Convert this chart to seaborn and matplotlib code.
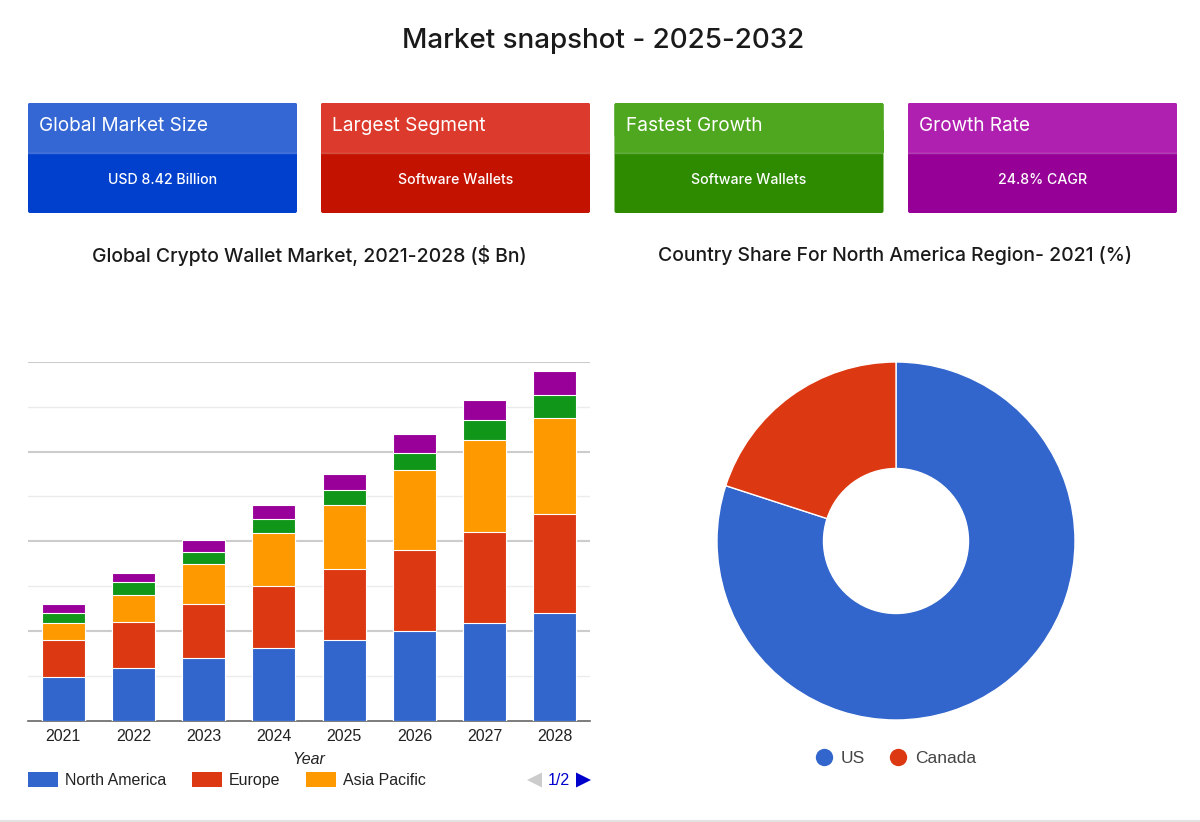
import numpy as np
import pandas as pd
import matplotlib
matplotlib.use("Agg")
import matplotlib.pyplot as plt
from matplotlib.patches import FancyBboxPatch, Rectangle, Polygon, Patch
from matplotlib.lines import Line2D
import seaborn as sns

years = [2021, 2022, 2023, 2024, 2025, 2026, 2027, 2028]
north_america = [0.98, 1.18, 1.40, 1.62, 1.79, 1.99, 2.17, 2.39]
europe = [0.82, 1.02, 1.21, 1.38, 1.60, 1.81, 2.03, 2.21]
asia_pacific = [0.38, 0.61, 0.89, 1.18, 1.43, 1.79, 2.05, 2.14]
latin_america = [0.22, 0.27, 0.27, 0.31, 0.33, 0.38, 0.45, 0.53]
middle_east = [0.20, 0.22, 0.25, 0.31, 0.36, 0.42, 0.45, 0.52]

country_names = ["US", "Canada"]
country_share = [80, 20]

card_titles = ["Global Market Size", "Largest Segment", "Fastest Growth", "Growth Rate"]
card_values = ["USD 8.42 Billion", "Software Wallets", "Software Wallets", "24.8% CAGR"]
card_heads = ["#3567d4", "#dc3a2c", "#4ea71f", "#b020b0"]
card_bodies = ["#0040cc", "#c41200", "#2e8b00", "#960096"]

BLUE, RED, ORANGE, GREEN, PURPLE = "#3366cc", "#dc3912", "#ff9900", "#109618", "#990099"
W, H = 1200, 822
HEAD_FONT = ["Inter", "DejaVu Sans"]
CHART_FONT = ["Liberation Sans", "DejaVu Sans"]

sns.set_theme(style="white")
plt.rcParams["font.family"] = CHART_FONT

fig = plt.figure(figsize=(12, 8.22), dpi=100, facecolor="white")


def px_axes(left, top, right, bottom):
    return fig.add_axes([left / W, 1 - bottom / H, (right - left) / W, (bottom - top) / H])


# page layer in pixel coords
page = fig.add_axes([0, 0, 1, 1])
page.set_xlim(0, W)
page.set_ylim(H, 0)
page.axis("off")

page.text(603, 41, "Market snapshot - 2025-2032", ha="center", va="center",
          fontsize=20, family=HEAD_FONT, weight=500, color="#1a1a1a")

card_left = [28, 321, 614.5, 908]
for left, title, value, head, body in zip(card_left, card_titles, card_values, card_heads, card_bodies):
    page.add_patch(FancyBboxPatch((left + 2, 105), 265, 106, boxstyle="round,pad=2", fc=body, ec="none"))
    page.add_patch(FancyBboxPatch((left + 2, 105), 265, 30, boxstyle="round,pad=2", fc=head, ec="none"))
    page.add_patch(Rectangle((left, 130), 269, 23, fc=head, ec="none"))
    page.plot([left, left + 269], [153, 153], color="white", alpha=0.25, lw=1)
    page.text(left + 11, 126, title, ha="left", va="center", fontsize=13.7,
              family=HEAD_FONT, color="white")
    page.text(left + 134.5, 180, value, ha="center", va="center", fontsize=10.2,
              family=HEAD_FONT, weight=500, color="white")

page.text(309, 255, "Global Crypto Wallet Market, 2021-2028 ($ Bn)", ha="center", va="center",
          fontsize=13.95, family=HEAD_FONT, weight=500, color="#1a1a1a")
page.text(895, 255, "Country Share For North America Region- 2021 (%)", ha="center", va="center",
          fontsize=13.95, family=HEAD_FONT, weight=500, color="#1a1a1a")

# bottom page rule
page.plot([0, W], [821, 821], color="#e3e3e3", lw=1.5)

# stacked bars, tallest first so each shorter total sits on top
ax = px_axes(28, 362, 590, 720.5)
ax.set_facecolor("none")
df = pd.DataFrame({"year": years, "North America": north_america, "Europe": europe,
                   "Asia Pacific": asia_pacific, "Latin America": latin_america,
                   "Middle East": middle_east})
series = ["North America", "Europe", "Asia Pacific", "Latin America", "Middle East"]
colors = [BLUE, RED, ORANGE, GREEN, PURPLE]
totals = df[series].cumsum(axis=1)
for name, color in reversed(list(zip(series, colors))):
    sns.barplot(x=df["year"], y=totals[name], color=color, saturation=1, width=0.61,
                edgecolor="white", linewidth=0.8, ax=ax, zorder=3)

ax.set_xlim(-0.5, 7.5)
ax.set_ylim(0, 8)
ax.set_yticks([2, 4, 6, 8])
ax.set_yticks([1, 3, 5, 7], minor=True)
ax.grid(True, which="major", axis="y", color="#cccccc", lw=1.5)
ax.grid(True, which="minor", axis="y", color="#ebebeb", lw=1)
ax.set_axisbelow(True)
ax.tick_params(axis="y", which="both", left=False, labelleft=False)
ax.tick_params(axis="x", bottom=False, labelsize=11.5, labelcolor="#222222", pad=0)
ax.set_ylabel("")
ax.set_xlabel("Year", fontsize=11.5, style="italic", color="#222222", labelpad=6)
sns.despine(ax=ax, left=True, top=True, right=True)
ax.spines["bottom"].set_color("#666666")
ax.spines["bottom"].set_linewidth(1.2)

bar_handles = [Patch(fc=c, ec="none") for c in colors[:3]]
ax.legend(bar_handles, series[:3], ncol=3, loc="center left", frameon=False,
          bbox_to_anchor=(28 / W, 1 - 780 / H), bbox_transform=fig.transFigure,
          borderaxespad=0, borderpad=0, fontsize=11.5, handlelength=1.875, handleheight=1.1,
          handletextpad=0.45, columnspacing=1.6, labelcolor="#222222")

# legend pager
page.add_patch(Polygon([[527, 780], [542, 772.5], [542, 787.5]], fc="#cccccc", ec="none"))
page.add_patch(Polygon([[591, 780], [576, 772.5], [576, 787.5]], fc="#0000cc", ec="none"))
page.text(559, 780, "1/2", ha="center", va="center", fontsize=11.5, color="#0000cc")

# donut
ax2 = px_axes(717, 362, 1075, 720)
ax2.pie(country_share, colors=[BLUE, RED], startangle=90, counterclock=False, radius=1,
        wedgeprops=dict(width=0.595, edgecolor="white", linewidth=1))
ax2.set_xlim(-1, 1)
ax2.set_ylim(-1, 1)

pie_handles = [Line2D([], [], marker="o", ls="none", ms=12.5, mfc=c, mec="none") for c in [BLUE, RED]]
ax2.legend(pie_handles, country_names, ncol=2, loc="center left", frameon=False,
           bbox_to_anchor=(813 / W, 1 - 758 / H), bbox_transform=fig.transFigure,
           borderaxespad=0, borderpad=0, fontsize=12.5, handlelength=1.29, handletextpad=0.32,
           columnspacing=1.25, labelcolor="#444444")

fig.savefig("out.png", dpi=100)
